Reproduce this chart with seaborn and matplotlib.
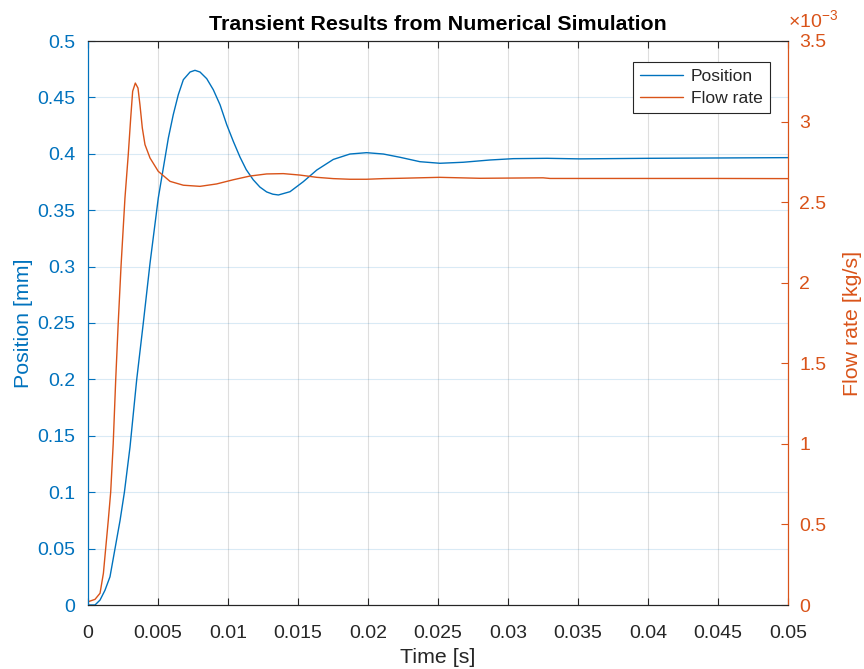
import matplotlib
matplotlib.use("Agg")
import matplotlib.pyplot as plt
from matplotlib.ticker import FuncFormatter, MultipleLocator
import seaborn as sns

# Valve position response [mm]
t_pos = [0.0, 0.0005, 0.00086, 0.00121, 0.00157, 0.00193, 0.00229, 0.0026,
         0.003, 0.00348, 0.00395, 0.00443, 0.00502, 0.00538, 0.00574, 0.00609,
         0.00645, 0.00681, 0.00729, 0.00764, 0.008, 0.00848, 0.00895, 0.00943,
         0.00991, 0.01038, 0.01086, 0.0113, 0.0118, 0.01228, 0.01276, 0.0132,
         0.0136, 0.01443, 0.01538, 0.01634, 0.01752, 0.01871, 0.0199, 0.0211,
         0.02229, 0.02371, 0.02514, 0.0268, 0.0287, 0.0304, 0.0328, 0.0351,
         0.04, 0.045, 0.05]
position = [0.0, 0.0, 0.0044, 0.013, 0.025, 0.05, 0.075, 0.1,
            0.14, 0.2, 0.25, 0.303, 0.3608, 0.3874, 0.414, 0.4347,
            0.4524, 0.4657, 0.4725, 0.474, 0.4725, 0.4666, 0.4568, 0.4435,
            0.4258, 0.411, 0.397, 0.386, 0.377, 0.3705, 0.3662, 0.3642,
            0.3635, 0.3664, 0.3753, 0.3856, 0.395, 0.3998, 0.401, 0.3998,
            0.3969, 0.393, 0.3916, 0.3925, 0.3945, 0.3957, 0.396, 0.3955,
            0.396, 0.3963, 0.3966]

# Mass flow rate [kg/s]
t_flow = [0.0, 0.0005, 0.00086, 0.0011, 0.00126, 0.00145, 0.00162, 0.0018,
          0.00198, 0.00216, 0.00236, 0.00264, 0.00288, 0.00305, 0.00319,
          0.00338, 0.00357, 0.00371, 0.00388, 0.00407, 0.00443, 0.00502,
          0.00586, 0.00681, 0.008, 0.00919, 0.01038, 0.01157, 0.01276,
          0.01395, 0.01514, 0.01634, 0.01752, 0.01871, 0.0199, 0.0211,
          0.02229, 0.0251, 0.028, 0.0325, 0.033, 0.04, 0.045, 0.05]
flow_rate = [0.02e-3, 0.035e-3, 0.073e-3, 0.197e-3, 0.348e-3, 0.527e-3, 0.70e-3, 1.0e-3,
             1.40e-3, 1.752e-3, 2.104e-3, 2.526e-3, 2.80e-3, 3.022e-3, 3.188e-3,
             3.239e-3, 3.208e-3, 3.105e-3, 2.96e-3, 2.857e-3, 2.774e-3, 2.691e-3,
             2.629e-3, 2.605e-3, 2.598e-3, 2.613e-3, 2.639e-3, 2.662e-3, 2.675e-3,
             2.677e-3, 2.668e-3, 2.654e-3, 2.646e-3, 2.642e-3, 2.642e-3, 2.646e-3,
             2.648e-3, 2.654e-3, 2.648e-3, 2.651e-3, 2.647e-3, 2.647e-3, 2.647e-3, 2.646e-3]

BLUE = (0.0, 0.447, 0.741)
ORANGE = (0.85, 0.325, 0.098)
DARK = (0.15, 0.15, 0.15)

sns.set_style("white")
plt.rcParams["font.family"] = ["Liberation Sans", "DejaVu Sans"]
plt.rcParams["mathtext.fontset"] = "custom"
plt.rcParams["mathtext.rm"] = "Liberation Sans"
plt.rcParams["mathtext.it"] = "Liberation Sans:italic"

fig = plt.figure(figsize=(8.64, 6.69), dpi=100)
ax = fig.add_axes([88 / 864, 64 / 669, 700 / 864, 564 / 669])
ax2 = ax.twinx()

sns.lineplot(x=t_pos, y=position, ax=ax, color=BLUE, lw=1.0, legend=False)
sns.lineplot(x=t_flow, y=flow_rate, ax=ax2, color=ORANGE, lw=1.0, legend=False)

ax.set_xlim(0, 0.05)
ax.set_ylim(0, 0.5)
ax2.set_ylim(0, 3.5e-3)

ax.xaxis.set_major_locator(MultipleLocator(0.005))
ax.yaxis.set_major_locator(MultipleLocator(0.05))
ax2.yaxis.set_major_locator(MultipleLocator(0.5e-3))
fmt_g = FuncFormatter(lambda v, p: f"{round(v, 6):g}")
ax.xaxis.set_major_formatter(fmt_g)
ax.yaxis.set_major_formatter(fmt_g)
ax2.yaxis.set_major_formatter(FuncFormatter(lambda v, p: f"{round(v * 1e3, 6):g}"))
ax2.text(1.0, 1.018, r"$\times\mathregular{10^{-3}}$", transform=ax2.transAxes,
         ha="left", va="bottom", color=ORANGE, fontsize=14)

# grid: vertical gray, horizontal tinted with the left axis colour
ax.grid(True, axis="x", color=DARK, alpha=0.15, lw=0.8)
ax.grid(True, axis="y", color=BLUE, alpha=0.15, lw=0.8)
ax.set_axisbelow(True)

# spines
for a in (ax, ax2):
    a.spines["top"].set_color(DARK)
    a.spines["bottom"].set_color(DARK)
    for s in a.spines.values():
        s.set_linewidth(0.8)
ax.spines["left"].set_color(BLUE)
ax2.spines["left"].set_color(BLUE)
ax.spines["right"].set_color(ORANGE)
ax2.spines["right"].set_color(ORANGE)

ax.tick_params(axis="x", which="both", direction="in", top=True, bottom=True,
               length=5, width=0.8, color=DARK, labelcolor=DARK, labelsize=14, pad=14.5)
ax.tick_params(axis="y", direction="in", left=True, right=False, length=5,
               width=0.8, color=BLUE, labelcolor=BLUE, labelsize=14, pad=9)
ax2.tick_params(axis="y", direction="in", left=False, right=True, length=5,
                width=0.8, color=ORANGE, labelcolor=ORANGE, labelsize=14, pad=8)

ax.set_xlabel("Time [s]", fontsize=15.4, color=DARK, labelpad=4)
ax.set_ylabel("Position [mm]", fontsize=15.4, color=BLUE, labelpad=3)
ax2.set_ylabel("Flow rate [kg/s]", fontsize=15.4, color=ORANGE, labelpad=12)
ax.set_title("Transient Results from Numerical Simulation", fontsize=15.4,
             fontweight="bold", color="black", pad=8)

handles = [ax.get_lines()[0], ax2.get_lines()[0]]
leg = ax2.legend(handles, ["Position", "Flow rate"], loc="upper right",
                 bbox_to_anchor=(0.974, 0.963), borderaxespad=0, fontsize=12.6,
                 fancybox=False, framealpha=1, edgecolor=DARK, handlelength=2.45,
                 borderpad=0.4, labelspacing=0.4, handletextpad=0.45)
leg.get_frame().set_linewidth(0.8)
for h in leg.get_lines():
    h.set_linewidth(1.0)

fig.savefig("out.png", dpi=100)
